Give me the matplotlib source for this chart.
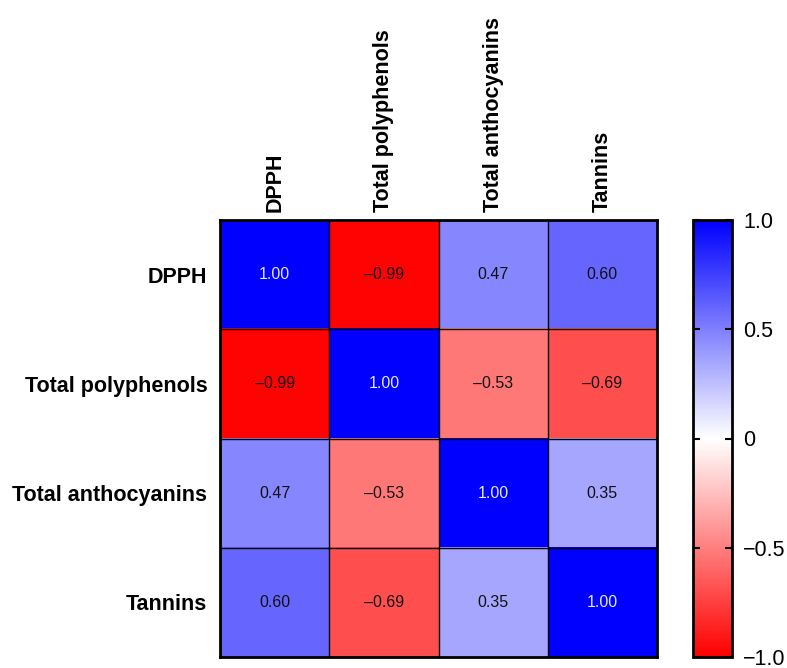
import matplotlib.pyplot as plt
import numpy as np
from matplotlib.colors import LinearSegmentedColormap

labels = ["DPPH", "Total polyphenols", "Total anthocyanins", "Tannins"]
corr = np.array([
    [1.00, -0.99, 0.47, 0.60],
    [-0.99, 1.00, -0.53, -0.69],
    [0.47, -0.53, 1.00, 0.35],
    [0.60, -0.69, 0.35, 1.00],
])
cbar_ticks = [-1.0, -0.5, 0, 0.5, 1.0]
cbar_ticklabels = ["\u22121.0", "\u22120.5", "0", "0.5", "1.0"]

plt.rcParams["font.family"] = ["Liberation Sans", "DejaVu Sans"]

cmap = LinearSegmentedColormap.from_list("rwb", [(1, 0, 0), (1, 1, 1), (0, 0, 1)])

fig = plt.figure(figsize=(7.87, 6.68), dpi=100)
W, H = 787, 668
ax = fig.add_axes([220 / W, (H - 657) / H, 437 / W, 437 / H])
cax = fig.add_axes([693 / W, (H - 657) / H, 39 / W, 437 / H])

n = len(labels)
im = ax.imshow(corr, cmap=cmap, vmin=-1, vmax=1, aspect="auto",
               extent=(-0.5, n - 0.5, n - 0.5, -0.5))
for k in range(1, n):
    ax.axhline(k - 0.5, color="black", lw=1.0)
    ax.axvline(k - 0.5, color="black", lw=1.0)
for sp in ax.spines.values():
    sp.set_linewidth(2.0)

for i in range(n):
    for j in range(n):
        v = corr[i, j]
        txt = f"{v:.2f}".replace("-", "\u2013")
        col = "#e8e8ff" if v >= 0.99 else "#111111"
        ax.text(j, i, txt, ha="center", va="center", fontsize=11.5, color=col)

ax.set_xticks(range(n))
ax.set_yticks(range(n))
ax.set_xticklabels(labels, rotation=90, fontsize=15.5, fontweight="bold")
ax.set_yticklabels(labels, fontsize=15.5, fontweight="bold")
ax.xaxis.tick_top()
ax.tick_params(length=0)
ax.tick_params(axis="x", pad=6)
ax.tick_params(axis="y", pad=9)

cb = fig.colorbar(im, cax=cax, ticks=cbar_ticks)
cb.ax.set_yticklabels(cbar_ticklabels, fontsize=15.5)
cb.outline.set_linewidth(2.0)
cb.ax.tick_params(which="major", direction="in", length=5, width=1.5,
                  left=True, right=True, pad=8)

fig.savefig("out.png", dpi=100)
plt.close(fig)
